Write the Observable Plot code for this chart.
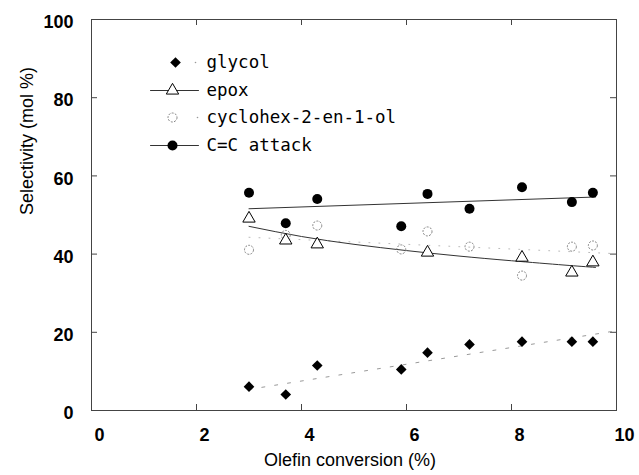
<!DOCTYPE html>
<html>
<head>
<meta charset="utf-8">
<script src="https://cdn.jsdelivr.net/npm/d3@7"></script>
<script src="https://cdn.jsdelivr.net/npm/@observablehq/plot@0.6"></script>
<style>
  html, body { margin: 0; padding: 0; background: #fff; }
</style>
</head>
<body>
<div id="chart"></div>
<script>
// Olefin conversion (%) for each run
const conversion = [3.0, 3.7, 4.3, 5.9, 6.4, 7.2, 8.2, 9.15, 9.55];

// Selectivities (mol %) per product at each conversion (null = not measured)
const glycol       = [6.1, 4.1, 11.5, 10.5, 14.8, 16.9, 17.6, 17.6, 17.6];
const epox         = [49.1, 43.5, 42.5, null, 40.4, null, 39.1, 35.3, 37.9];
const cyclohexenol = [41.1, 44.9, 47.3, 41.2, 45.8, 41.9, 34.5, 41.9, 42.2];
const ccAttack     = [55.7, 47.9, 54.1, 47.1, 55.4, 51.6, 57.1, 53.3, 55.7];

// Trend curves (conversion, selectivity)
const glycolTrendX = [3, 10];
const glycolTrendY = [5.4, 20.4];
const epoxTrendX = [3, 4, 5, 6, 7, 8, 9, 9.6];
const epoxTrendY = [47.1, 44.5, 42.5, 40.9, 39.5, 38.3, 37.2, 36.6];
const cyclohexenolTrendX = [3, 10];
const cyclohexenolTrendY = [44.3, 40.1];
const ccTrendX = [3, 9.6];
const ccTrendY = [51.6, 54.6];

// Axis ticks
const xTicks = [0, 2, 4, 6, 8, 10];
const yTicks = [0, 20, 40, 60, 80, 100];

// Legend labels
const seriesNames = ["glycol", "epox", "cyclohex-2-en-1-ol", "C=C attack"];

const rows = (ys) => conversion.map((c, i) => ({c, v: ys[i]})).filter(d => d.v != null);
const trend = (xs, ys) => xs.map((c, i) => ({c, v: ys[i]}));

const W = 639, H = 475;
const M = {left: 91, right: 23, top: 19, bottom: 65};
const frameW = W - M.left - M.right;
const frameH = H - M.top - M.bottom;
const tickLen = 6;

const frameColor = "#444";
const legendFont = "DejaVu Sans Mono, monospace";

// straight segment shape for legend lines
const segment = {draw(ctx, l) { ctx.moveTo(0, 0); ctx.lineTo(0, -l); }};

// Marker styles shared by points and legend
const styles = [
  {symbol: "diamond2", r: 4.8, fill: "black", stroke: "none"},
  {symbol: "triangle", r: 4.6, fill: "white", stroke: "black", strokeWidth: 1},
  {symbol: "circle", r: 4.5, fill: "none", stroke: "#808080", strokeWidth: 1, strokeDasharray: "2,1.3"},
  {symbol: "circle", r: 5, fill: "black", stroke: "none"}
];

// Inward tick marks on all four sides of the frame (rules inset to the tick length)
const innerX = xTicks.slice(1, -1);
const innerY = yTicks.slice(1, -1);
const tickMarks = [
  Plot.ruleX(innerX, {x: d => d, insetTop: frameH - tickLen, stroke: frameColor}),
  Plot.ruleX(innerX, {x: d => d, insetBottom: frameH - tickLen, stroke: frameColor}),
  Plot.ruleY(innerY, {y: d => d, insetRight: frameW - tickLen, stroke: frameColor}),
  Plot.ruleY(innerY, {y: d => d, insetLeft: frameW - tickLen, stroke: frameColor})
];

// Legend, anchored to the top-left corner of the frame
const rowDy = [43, 71, 98, 126];
const legendMarks = [];
seriesNames.forEach((name, i) => {
  const dy = rowDy[i];
  if (i === 1 || i === 3) {
    legendMarks.push(Plot.vector([0], {frameAnchor: "top-left", dx: 59, dy, length: 48, rotate: 90,
      anchor: "start", shape: segment, stroke: "#333", strokeWidth: 1}));
  } else {
    legendMarks.push(Plot.dot([0], {frameAnchor: "top-left", dx: i === 0 ? 104 : 106, dy, r: 0.8, fill: "#999"}));
  }
  legendMarks.push(Plot.dot([0], {frameAnchor: "top-left", dx: i === 0 ? 84 : 81, dy, ...styles[i]}));
  legendMarks.push(Plot.text([name], {frameAnchor: "top-left", dx: 115, dy, text: d => d,
    textAnchor: "start", lineAnchor: "middle", fontFamily: legendFont, fontSize: 17.5, fill: "black"}));
});

const chart = Plot.plot({
  width: W,
  height: H,
  marginLeft: M.left,
  marginRight: M.right,
  marginTop: M.top,
  marginBottom: M.bottom,
  style: {fontFamily: "Liberation Sans, Arial, sans-serif", background: "white", color: "black"},
  x: {domain: [0, 10]},
  y: {domain: [0, 100]},
  marks: [
    Plot.frame({stroke: frameColor}),
    ...tickMarks,
    // tick labels
    Plot.axisX(xTicks, {anchor: "bottom", tickSize: 0, tickPadding: 18, dx: 8, fontSize: 18, fontWeight: "bold",
      tickFormat: d => String(d), label: null}),
    Plot.axisY(yTicks, {anchor: "left", tickSize: 0, tickPadding: 18, dy: 3, fontSize: 18, fontWeight: "bold",
      tickFormat: d => String(d), label: null}),
    // axis titles
    Plot.text(["Olefin conversion (%)"], {frameAnchor: "bottom", dy: 50, dx: -4, text: d => d,
      lineAnchor: "middle", fontSize: 18}),
    Plot.text(["Selectivity (mol %)"], {frameAnchor: "left", dx: -64, text: d => d,
      rotate: -90, lineAnchor: "middle", fontSize: 18}),
    // trend curves
    Plot.line(trend(glycolTrendX, glycolTrendY), {x: "c", y: "v", stroke: "#999", strokeWidth: 1, strokeDasharray: "3,10"}),
    Plot.line(trend(cyclohexenolTrendX, cyclohexenolTrendY), {x: "c", y: "v", stroke: "#bbb", strokeWidth: 1, strokeDasharray: "1,9"}),
    Plot.line(trend(epoxTrendX, epoxTrendY), {x: "c", y: "v", stroke: "#333", strokeWidth: 1, curve: "natural"}),
    Plot.line(trend(ccTrendX, ccTrendY), {x: "c", y: "v", stroke: "#333", strokeWidth: 1}),
    // measured points
    Plot.dot(rows(cyclohexenol), {x: "c", y: "v", ...styles[2]}),
    Plot.dot(rows(epox), {x: "c", y: "v", ...styles[1]}),
    Plot.dot(rows(ccAttack), {x: "c", y: "v", ...styles[3]}),
    Plot.dot(rows(glycol), {x: "c", y: "v", ...styles[0]}),
    ...legendMarks
  ]
});

document.getElementById("chart").appendChild(chart);
</script>
</body>
</html>
